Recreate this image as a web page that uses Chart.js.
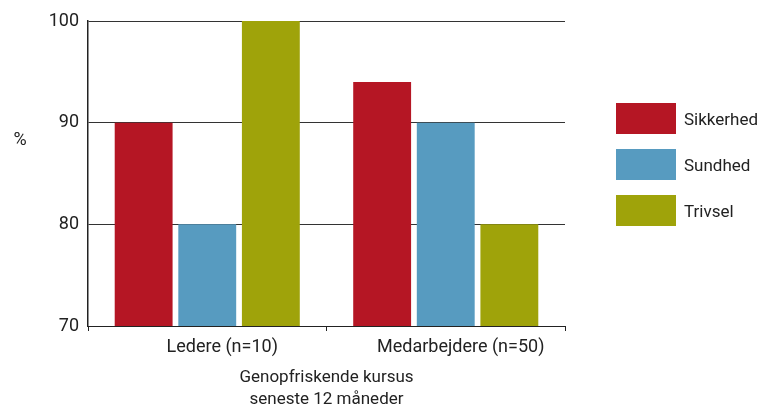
<!DOCTYPE html>
<html>
<head>
<meta charset="utf-8">
<style>
  body { margin: 0; background: #fff; }
  #wrap { position: relative; width: 770px; height: 411px; }
  #legend { position: absolute; left: 616px; top: 103px; font-family: Roboto, sans-serif; font-size: 17px; color: #222; }
  #legend .item { display: flex; align-items: center; height: 31px; margin-bottom: 15px; }
  #legend .box { width: 60px; height: 31px; margin-right: 8px; }
</style>
</head>
<body>
<div id="wrap">
  <canvas id="kursusChart" width="770" height="411"></canvas>
  <div id="legend"></div>
</div>
<script src="https://cdn.jsdelivr.net/npm/chart.js"></script>
<script>
  const labels = ['Ledere (n=10)', 'Medarbejdere (n=50)']
  const series = ['Sikkerhed', 'Sundhed', 'Trivsel']
  const sikkerhed = [90, 94]
  const sundhed = [80, 90]
  const trivsel = [100, 80]
  const yTicks = [70, 80, 90, 100]
  const colors = ['#B51624', '#579BC0', '#9FA30A']

  ;(() => {
    const ctx = document.getElementById('kursusChart').getContext('2d');
    const values = [sikkerhed, sundhed, trivsel]

    // % label sits horizontally left of the axis
    const percentLabel = {
      id: 'percentLabel',
      afterDraw(chart) {
        const c = chart.ctx;
        c.save();
        c.font = '18px Roboto';
        c.fillStyle = '#222';
        c.textAlign = 'center';
        c.textBaseline = 'middle';
        c.fillText('%', 20, 140);
        c.restore();
      }
    }

    const chart = new Chart(ctx, {
      type: 'bar',
      data: {
        labels,
        datasets: series.map((name, i) => ({
          label: name,
          data: values[i],
          backgroundColor: colors[i],
          borderWidth: 0,
          categoryPercentage: 0.8,
          barPercentage: 0.91
        }))
      },
      options: {
        responsive: false,
        animation: false,
        layout: { padding: { top: 21, right: 205, left: 0, bottom: 0 } },
        plugins: {
          legend: { display: false },
          tooltip: { enabled: false }
        },
        scales: {
          x: {
            offset: true,
            grid: { display: true, drawOnChartArea: false, offset: true, tickLength: 5, color: '#222' },
            border: { color: '#222', width: 1 },
            ticks: { color: '#222', padding: 6, labelOffset: 15, font: { family: 'Roboto', size: 18 } },
            title: {
              display: true,
              text: ['Genopfriskende kursus', 'seneste 12 måneder'],
              color: '#222',
              font: { family: 'Roboto', size: 17, lineHeight: 1.3 },
              padding: { top: 0, bottom: 0 }
            },
            afterFit(scale) { scale.height = 85 }
          },
          y: {
            min: yTicks[0],
            max: yTicks[yTicks.length - 1],
            afterBuildTicks(scale) { scale.ticks = yTicks.map(v => ({ value: v })) },
            grid: { color: '#333', drawTicks: false },
            border: { color: '#222', width: 1.5 },
            ticks: { color: '#222', padding: 9, font: { family: 'Roboto', size: 18 } },
            afterFit(scale) { scale.width = 88 }
          }
        }
      },
      plugins: [percentLabel]
    });

    const legend = document.getElementById('legend')
    series.forEach((name, i) => {
      const item = document.createElement('div')
      item.className = 'item'
      item.innerHTML = '<span class="box" style="background:' + colors[i] + '"></span><span>' + name + '</span>'
      legend.appendChild(item)
    })
  })()
</script>
</body>
</html>
